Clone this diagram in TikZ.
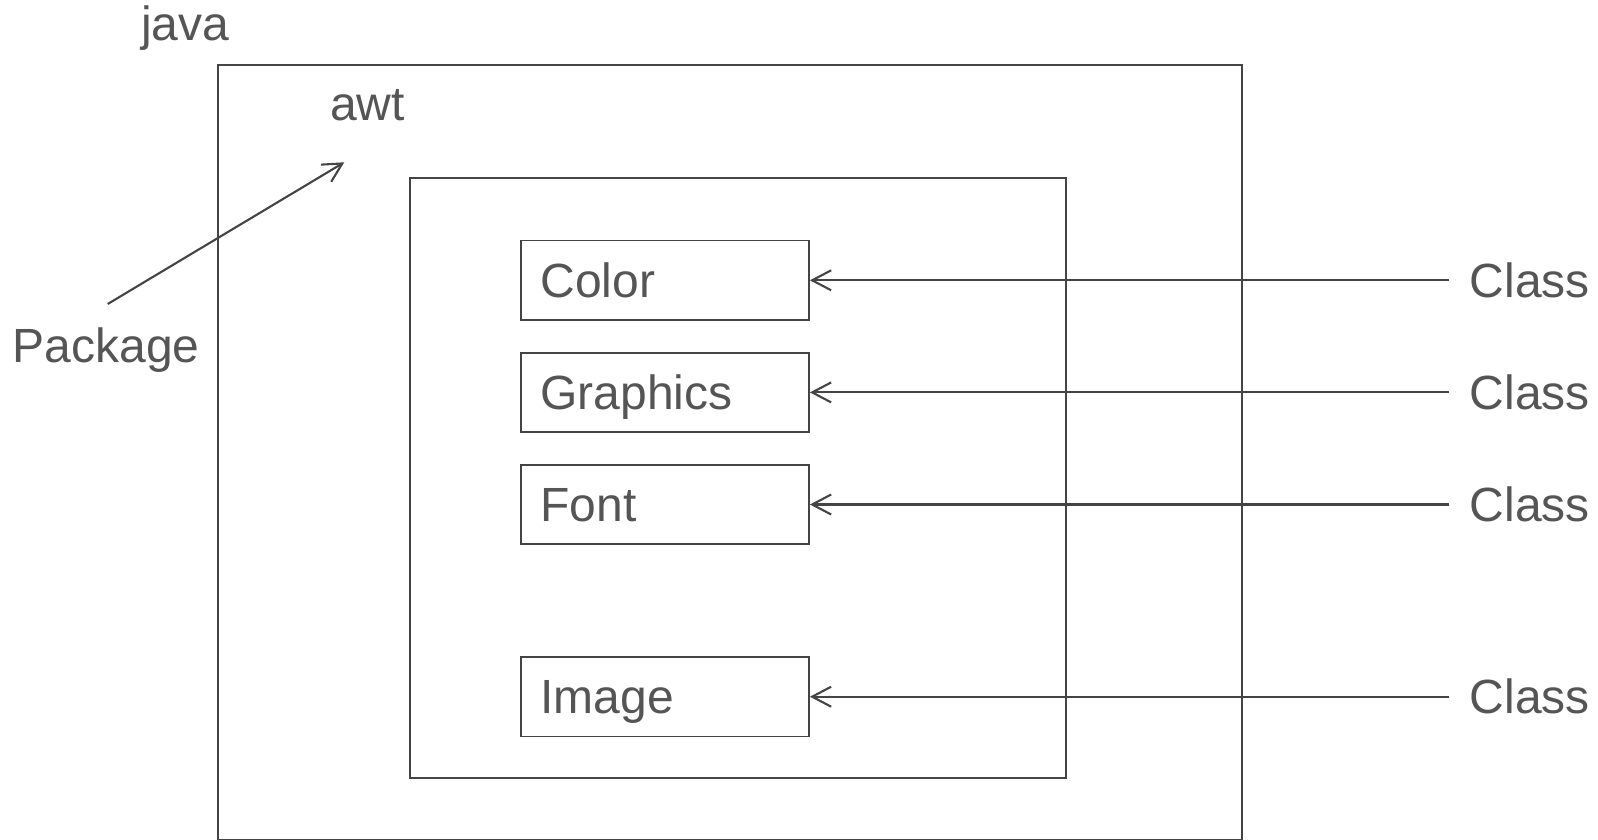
\documentclass[tikz,border=0pt]{standalone}
\usepackage{fontspec}
\setmainfont{Liberation Sans}
\usetikzlibrary{arrows.meta}
\definecolor{inkline}{HTML}{444444}
\definecolor{inktext}{HTML}{555555}
\tikzset{
  lbl/.style={inner sep=0pt, text=inktext, font=\fontsize{48}{58}\selectfont,
              text height=34pt, text depth=0pt},
  pkgbox/.style={draw=inkline, line width=1.8pt, inner sep=0pt, anchor=north west},
  classbox/.style={draw=inkline, line width=1.8pt, text=inktext,
              font=\fontsize{48}{58}\selectfont, text height=34pt, text depth=0pt,
              minimum width=288pt, minimum height=79.5pt, inner xsep=19.5pt,
              inner ysep=0pt, text width=249pt, align=left},
  arr/.style={draw=inkline, line width=2.1pt, -{Straight Barb[length=19pt,width=20pt]}}
}
\begin{document}
\begin{tikzpicture}[x=1pt, y=-1pt]
\useasboundingbox (0,0) rectangle (1598,840);

% package frames
\node[pkgbox, minimum width=1024.3pt, minimum height=774.8pt] (javabox) at (216.7,64.2) {};
\node[pkgbox, minimum width=656pt, minimum height=600pt] (awtbox) at (409,176.7) {};

% package names
\node[lbl, anchor=base west] (java) at (141,40.7) {java};
\node[lbl, anchor=base west] (awt) at (330,120.7) {awt};
\node[lbl, anchor=base west] (pkg) at (12.5,362) {Package};

% classes
\node[classbox] (color) at (665,280.3) {Color};
\node[classbox] (graphics) at (665,392.4) {Graphics};
\node[classbox] (font) at (665,504.5) {Font};
\node[classbox] (image) at (665,696.7) {Image};

% class labels
\node[lbl, anchor=west] (k1) at (1469.6,280.3) {Class};
\node[lbl, anchor=west] (k2) at (1469.6,392.4) {Class};
\node[lbl, anchor=west] (k3) at (1469.6,504.5) {Class};
\node[lbl, anchor=west] (k4) at (1469.6,696.7) {Class};

% pointers
\coordinate (pkgtail) at (107.7,304);
\coordinate (awtpoint) at (344.3,162.3);
\draw[arr] (pkgtail) -- (awtpoint);
\draw[arr] ([xshift=-20.6pt]k1.west) -- (color.east);
\draw[arr] ([xshift=-20.6pt]k2.west) -- (graphics.east);
\draw[arr] ([xshift=-20.6pt]k3.west) -- (font.east);
\draw[arr] ([xshift=-20.6pt]k4.west) -- (image.east);
\end{tikzpicture}
\end{document}
